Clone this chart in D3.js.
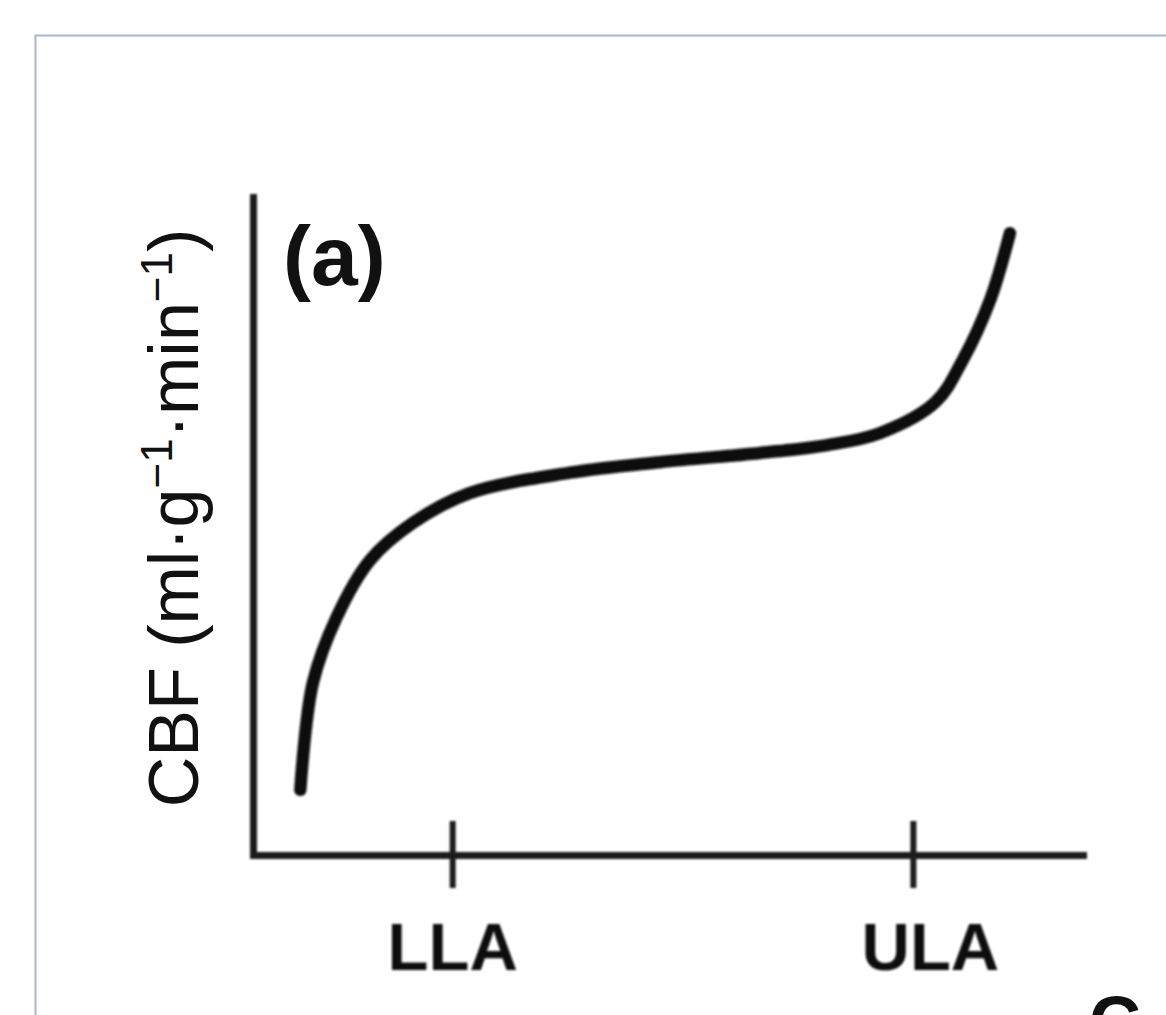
<!DOCTYPE html>
<html>
    <head>
        <title>CBF autoregulation</title>
        <script src="https://d3js.org/d3.v7.min.js"></script>
    </head>
    <style>
        body {
            margin: 0;
            background: #fff;
            overflow: hidden;
        }
        text {
            font-family: "Liberation Sans", Arial, sans-serif;
            fill: #111;
        }
    </style>
    <body>

        <div id="chart"></div>

        <script>

            // Pressure (x) and CBF (y), arbitrary 0-100 units
            const pressure = [5.7, 7.2, 10.1, 14.1, 19.3, 26.1, 38.2, 49.0, 61.1, 69.2, 75.5, 82.2, 85.5, 88.8, 91.2];
            const cbf      = [9.9, 26.1, 36.2, 44.8, 50.5, 55.0, 58.1, 59.7, 61.1, 62.3, 64.1, 68.8, 75.2, 84.3, 94.5];

            // Limits of autoregulation on the pressure axis
            const tickLabels = ["LLA", "ULA"];
            const tickValues = [24.0, 79.5];

            const width = 1166, height = 1015;
            const plotLeft = 253, plotRight = 1083, plotTop = 197, plotBottom = 855;

            const svg = d3.select("#chart")
                .append("svg")
                .attr("width", width)
                .attr("height", height);

            // soft edges like the scanned figure
            svg.append("defs").append("filter")
                .attr("id", "soft")
                .append("feGaussianBlur")
                .attr("stdDeviation", 0.9);

            // light frame around the panel
            svg.append("rect")
                .attr("x", 35.5)
                .attr("y", 35.5)
                .attr("width", 1200)
                .attr("height", 1100)
                .attr("fill", "none")
                .attr("stroke", "#a9b8ca")
                .attr("stroke-width", 2);

            const x = d3.scaleLinear().domain([0, 100]).range([plotLeft, plotRight]);
            const y = d3.scaleLinear().domain([0, 100]).range([plotBottom, plotTop]);

            const g = svg.append("g").attr("filter", "url(#soft)");

            // y axis: just the line
            g.append("g")
                .attr("transform", `translate(${plotLeft},0)`)
                .call(d3.axisLeft(y).tickValues([]).tickSizeOuter(0));

            // x axis with the two limit ticks
            const xAxis = g.append("g")
                .attr("transform", `translate(0,${plotBottom})`)
                .call(d3.axisBottom(x)
                    .tickValues(tickValues)
                    .tickSizeOuter(0)
                    .tickFormat((d, i) => tickLabels[i]));

            g.selectAll(".domain")
                .attr("stroke", "#1c1c1c")
                .attr("stroke-width", 7)
                .attr("stroke-linecap", "square");

            xAxis.selectAll(".tick line")
                .attr("y1", -34)
                .attr("y2", 33)
                .attr("stroke", "#1c1c1c")
                .attr("stroke-width", 6);

            xAxis.selectAll(".tick text")
                .attr("y", 115)
                .attr("dy", 0)
                .attr("dx", (d, i) => i === 1 ? 17 : 0)
                .style("font-family", "'Liberation Sans', Arial, sans-serif")
                .style("font-size", "67px")
                .style("font-weight", "bold")
                .attr("fill", "#111");

            // the autoregulation curve
            const line = d3.line()
                .x((d, i) => x(pressure[i]))
                .y(d => y(d))
                .curve(d3.curveCatmullRom.alpha(0.5));

            g.append("path")
                .datum(cbf)
                .attr("d", line)
                .attr("fill", "none")
                .attr("stroke", "#111")
                .attr("stroke-width", 12.5)
                .attr("stroke-linecap", "round");

            // panel letter
            svg.append("text")
                .attr("x", 283)
                .attr("y", 285)
                .style("font-size", "84px")
                .style("font-weight", "bold")
                .text("(a)");

            // y axis title
            const yLabel = svg.append("text")
                .attr("transform", "translate(198,518) rotate(-90)")
                .attr("text-anchor", "middle")
                .style("font-size", "70px");
            yLabel.append("tspan").text("CBF (ml·g");
            yLabel.append("tspan").attr("dy", -26).style("font-size", "44px").text("−1");
            yLabel.append("tspan").attr("dy", 26).text("·min");
            yLabel.append("tspan").attr("dy", -26).style("font-size", "44px").text("−1");
            yLabel.append("tspan").attr("dy", 26).text(")");

            // start of the next label, cut off by the crop as in the source
            svg.append("text")
                .attr("x", 1089)
                .attr("y", 1047)
                .style("font-size", "72px")
                .style("font-weight", "bold")
                .text("C");

        </script>

    </body>
</html>
